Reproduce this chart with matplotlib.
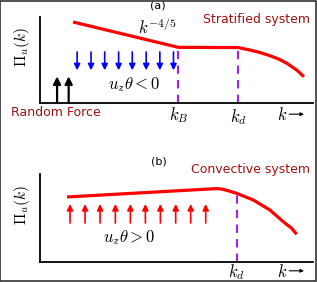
import matplotlib
matplotlib.use("Agg")
import matplotlib.pyplot as plt
from matplotlib.patches import Rectangle

plt.rcParams['mathtext.fontset'] = 'cm'
plt.rcParams['font.family'] = ['DejaVu Sans']

# Panel (a): stratified flux curve (normalized k, Pi)
a_k = [0.121, 0.507, 0.725, 0.769, 0.806, 0.842, 0.875, 0.904, 0.940, 0.967]
a_pi = [0.942, 0.647, 0.645, 0.616, 0.587, 0.550, 0.510, 0.462, 0.384, 0.306]
a_down_x = [0.136, 0.187, 0.237, 0.288, 0.338, 0.389, 0.439, 0.489]
a_force_x = [0.0625, 0.105]
a_kB, a_kd = 0.507, 0.725

# Panel (b): convective flux curve
b_k = [0.099, 0.623, 0.650, 0.671, 0.720, 0.781, 0.842, 0.891, 0.922, 0.940]
b_pi = [0.739, 0.830, 0.834, 0.826, 0.781, 0.705, 0.591, 0.458, 0.383, 0.315]
b_up_x = [0.110, 0.165, 0.220, 0.276, 0.331, 0.386, 0.441, 0.497, 0.552, 0.607]
b_kd = 0.720

W, H = 317, 282
fig = plt.figure(figsize=(W/100, H/100), dpi=100)
fig.patches.append(Rectangle((0.0015, 0.002), 0.995, 0.994, transform=fig.transFigure,
                             fill=False, edgecolor='#333333', lw=1.2))

def make_ax(x0, x1, ytop, ybot):
    ax = fig.add_axes([x0/W, 1-ybot/H, (x1-x0)/W, (ybot-ytop)/H])
    ax.set_xlim(0, 1); ax.set_ylim(0, 1)
    for s in ['top', 'right']:
        ax.spines[s].set_visible(False)
    for s in ['left', 'bottom']:
        ax.spines[s].set_linewidth(1.3)
    ax.set_xticks([]); ax.set_yticks([])
    ax.patch.set_alpha(0)
    return ax

purple = '#a020f0'
dred = '#a01010'

def arrow(ax, x, y0, y1, color, ms=9, lw=1.2):
    ax.annotate('', xy=(x, y1), xytext=(x, y0),
                arrowprops=dict(arrowstyle='-|>', color=color, lw=lw,
                                mutation_scale=ms, shrinkA=0, shrinkB=0))

def karrow(ax, x, y):
    ax.text(x, y, r'$k$', fontsize=12, ha='right', va='center')
    ax.annotate('', xy=(x + 0.062, y + 0.01), xytext=(x + 0.008, y + 0.01),
                xycoords='axes fraction',
                arrowprops=dict(arrowstyle='-|>', color='black', lw=0.8,
                                mutation_scale=5, shrinkA=0, shrinkB=0),
                annotation_clip=False)

# ---- Panel (a)
ax = make_ax(40, 313, 17, 103)
ax.set_ylabel(r'$\Pi_u(k)$', fontsize=11, labelpad=6, y=0.65)
ax.plot(a_k, a_pi, color='red', lw=2.3, solid_capstyle='butt')
for x in a_down_x:
    arrow(ax, x, 0.593, 0.38, 'blue')
for x in a_force_x:
    arrow(ax, x, 0.0, 0.31, 'black', ms=11, lw=1.6)
for x, top in [(a_kB, a_pi[1]), (a_kd, a_pi[2])]:
    ax.plot([x, x], [0, top], color=purple, lw=1.5, ls=(0, (4, 3)))
ax.text(0.43, 0.87, r'$k^{-4/5}$', fontsize=12, ha='center', va='center')
ax.text(0.344, 0.21, r'$u_z\theta<0$', fontsize=12, ha='center', va='center')
ax.text(a_kB, -0.14, r'$k_B$', fontsize=12, ha='center', va='center')
ax.text(a_kd, -0.16, r'$k_d$', fontsize=12, ha='center', va='center')
karrow(ax, 0.905, -0.14)
ax.text(0.43, 1.13, '(a)', fontsize=8, ha='center', va='center')
ax.text(0.99, 0.97, 'Stratified system', fontsize=9, color=dred, ha='right', va='center')
ax.text(-0.105, -0.105, 'Random Force', fontsize=9, color=dred, ha='left', va='center')

# ---- Panel (b)
bx = make_ax(40, 313, 174, 262)
bx.set_ylabel(r'$\Pi_u(k)$', fontsize=11, labelpad=6, y=0.65)
bx.plot(b_k, b_pi, color='red', lw=2.3, solid_capstyle='butt')
for x in b_up_x:
    arrow(bx, x, 0.443, 0.659, 'red')
bx.plot([b_kd, b_kd], [0, b_pi[4]], color=purple, lw=1.5, ls=(0, (4, 3)))
bx.text(0.325, 0.28, r'$u_z\theta>0$', fontsize=12, ha='center', va='center')
bx.text(b_kd, -0.12, r'$k_d$', fontsize=12, ha='center', va='center')
karrow(bx, 0.905, -0.11)
bx.text(0.435, 1.14, '(b)', fontsize=8, ha='center', va='center')
bx.text(0.99, 1.05, 'Convective system', fontsize=9, color=dred, ha='right', va='center')

fig.savefig('out.png', dpi=100)
